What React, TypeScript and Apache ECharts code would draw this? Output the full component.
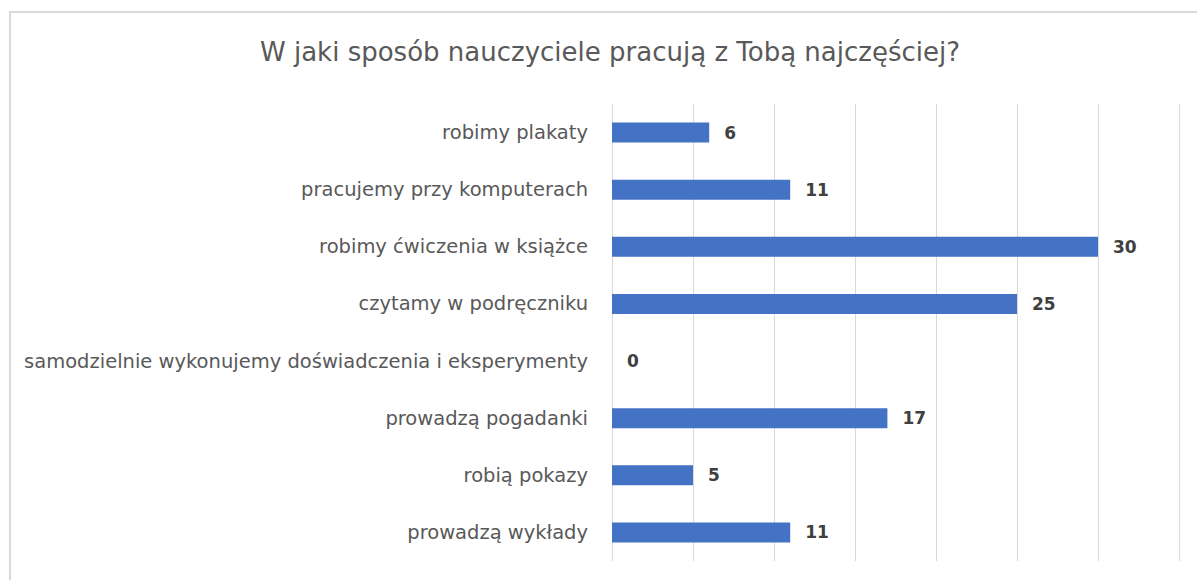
import React, { useEffect, useRef } from "react";
import * as echarts from "echarts";

const titleText = "W jaki sposób nauczyciele pracują z Tobą najczęściej?";
const categories = [
  "robimy plakaty",
  "pracujemy przy komputerach",
  "robimy ćwiczenia w książce",
  "czytamy w podręczniku",
  "samodzielnie wykonujemy doświadczenia i eksperymenty",
  "prowadzą pogadanki",
  "robią pokazy",
  "prowadzą wykłady",
];
const values = [6, 11, 30, 25, 0, 17, 5, 11];
const axisMin = 0;
const axisMax = 35;
const axisStep = 5;

export default function App() {
  const ref = useRef<HTMLDivElement>(null);
  useEffect(() => {
    if (!ref.current) return;
    const chart = echarts.init(ref.current, null, { renderer: "svg" });
    chart.setOption({
      animation: false,
      backgroundColor: "#ffffff",
      graphic: [
        {
          type: "rect",
          shape: { x: 10, y: 12, width: 1400, height: 800 },
          style: { fill: "none", stroke: "#d9d9d9", lineWidth: 2 },
          silent: true,
        },
        {
          type: "text",
          x: 610,
          y: 52,
          style: {
            text: titleText,
            fill: "#595959",
            font: '26px "DejaVu Sans", sans-serif',
            textAlign: "center",
            textVerticalAlign: "middle",
          },
        },
      ],
      grid: { left: 612, right: 18, top: 104, bottom: 19, containLabel: false },
      xAxis: {
        type: "value",
        min: axisMin,
        max: axisMax,
        interval: axisStep,
        axisLabel: { show: false },
        axisLine: { show: false },
        axisTick: { show: false },
        splitLine: { show: true, lineStyle: { color: "#d9d9d9", width: 1 } },
      },
      yAxis: {
        type: "category",
        data: categories,
        inverse: true,
        axisLine: { show: false },
        axisTick: { show: false },
        axisLabel: {
          margin: 24,
          color: "#595959",
          fontSize: 19.5,
          fontFamily: "DejaVu Sans",
        },
      },
      series: [
        {
          type: "bar",
          data: values,
          barWidth: 20,
          itemStyle: { color: "#4472C4" },
          label: {
            show: true,
            position: "right",
            distance: 15,
            color: "#404040",
            fontSize: 17,
            fontWeight: "bold",
            fontFamily: "DejaVu Sans",
          },
        },
      ],
    });
    return () => chart.dispose();
  }, []);
  return (
    <div
      ref={ref}
      style={{ position: "fixed", left: 0, top: 0, width: 1197, height: 580 }}
    />
  );
}
